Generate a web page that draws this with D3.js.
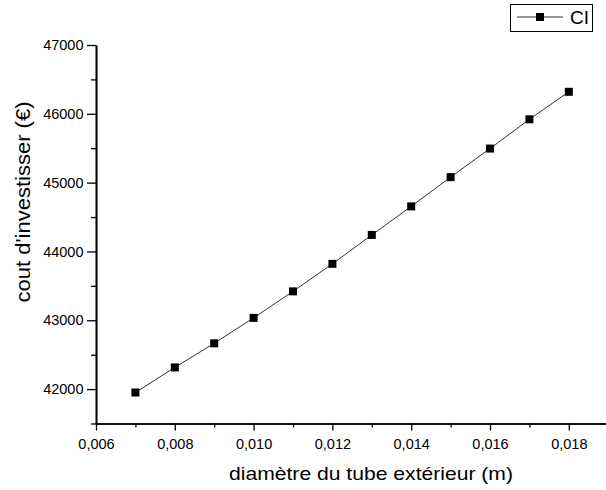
<!DOCTYPE html>
<html>
<head>
<meta charset="utf-8">
<script src="https://cdn.jsdelivr.net/npm/d3@7"></script>
<style>
    body { margin: 0; background: #fff; }
    text { font-family: "Liberation Sans", Arial, sans-serif; fill: #000; }
</style>
</head>
<body>
<div id="mainFigure"></div>
<script>
// diamètre (m) et coût d'investissement (€)
const diametres = [0.007, 0.008, 0.009, 0.010, 0.011, 0.012, 0.013, 0.014, 0.015, 0.016, 0.017, 0.018];
const couts = [41950, 42315, 42665, 43035, 43420, 43820, 44240, 44655, 45080, 45495, 45920, 46320];
const xTicks = [0.006, 0.008, 0.010, 0.012, 0.014, 0.016, 0.018];
const yTicks = [42000, 43000, 44000, 45000, 46000, 47000];
const serieNom = 'CI';

const W = 606, H = 490;
const mLeft = 96, mBottom = 423.5, mTop = 45;

const svg = d3.select('#mainFigure')
    .append('svg')
    .attr('width', W)
    .attr('height', H);

// échelles
const x = d3.scaleLinear().domain([0.006, 0.019]).range([mLeft, mLeft + 6.5 * 78.8]);
const y = d3.scaleLinear().domain([41500, 47000]).range([mBottom, mTop]);

const fmt = d => d3.format('.3f')(d).replace('.', ',');

// axe X
const gx = svg.append('g').attr('transform', `translate(0,${mBottom})`);
gx.call(d3.axisBottom(x).tickValues(xTicks).tickFormat(fmt).tickSize(7).tickSizeOuter(0));
gx.append('g').call(d3.axisBottom(x).tickValues(d3.range(0.007, 0.0195, 0.002)).tickFormat('').tickSize(4).tickSizeOuter(0));
gx.selectAll('text').style('font-size', '14.5px').attr('y', 15).attr('dy', '0.71em');

// axe Y
const gy = svg.append('g').attr('transform', `translate(${mLeft},0)`);
gy.call(d3.axisLeft(y).tickValues(yTicks).tickSize(9).tickSizeOuter(0).tickFormat(d3.format('d')));
gy.append('g').call(d3.axisLeft(y).tickValues(d3.range(41500, 47000, 1000)).tickFormat('').tickSize(5).tickSizeOuter(0));
gy.selectAll('text').style('font-size', '14.5px').attr('x', -12.5);

svg.selectAll('.domain').attr('stroke', '#000').attr('stroke-width', 1.6);
svg.selectAll('.tick line').attr('stroke', '#000').attr('stroke-width', 1.3);

// titres des axes
svg.append('text')
    .attr('x', 371)
    .attr('y', 480)
    .attr('text-anchor', 'middle')
    .attr('textLength', 284)
    .attr('lengthAdjust', 'spacingAndGlyphs')
    .style('font-size', '19px')
    .text('diamètre du tube extérieur (m)');

svg.append('text')
    .attr('transform', `translate(30,202) rotate(-90)`)
    .attr('text-anchor', 'middle')
    .attr('textLength', 201)
    .attr('lengthAdjust', 'spacingAndGlyphs')
    .style('font-size', '20px')
    .text("cout d'investisser (€)");

// courbe
const pts = diametres.map((d, i) => ({ d: d, c: couts[i] }));
const line = d3.line().x(p => x(p.d)).y(p => y(p.c));

svg.append('path')
    .datum(pts)
    .attr('fill', 'none')
    .attr('stroke', '#333')
    .attr('stroke-width', 1)
    .attr('d', line);

svg.selectAll('rect.pt')
    .data(pts)
    .enter()
    .append('rect')
    .attr('class', 'pt')
    .attr('x', p => x(p.d) - 4)
    .attr('y', p => y(p.c) - 4)
    .attr('width', 8)
    .attr('height', 8)
    .attr('fill', '#000');

// légende
const legend = svg.append('g');
legend.append('rect')
    .attr('x', 510.5).attr('y', 4.5)
    .attr('width', 82).attr('height', 27)
    .attr('fill', '#fff').attr('stroke', '#000').attr('stroke-width', 1);
legend.append('line')
    .attr('x1', 517).attr('x2', 563).attr('y1', 17).attr('y2', 17)
    .attr('stroke', '#333').attr('stroke-width', 1);
legend.append('rect')
    .attr('x', 536).attr('y', 13).attr('width', 8).attr('height', 8)
    .attr('fill', '#000');
legend.append('text')
    .attr('x', 570).attr('y', 24)
    .style('font-size', '19px')
    .text(serieNom);
</script>
</body>
</html>
